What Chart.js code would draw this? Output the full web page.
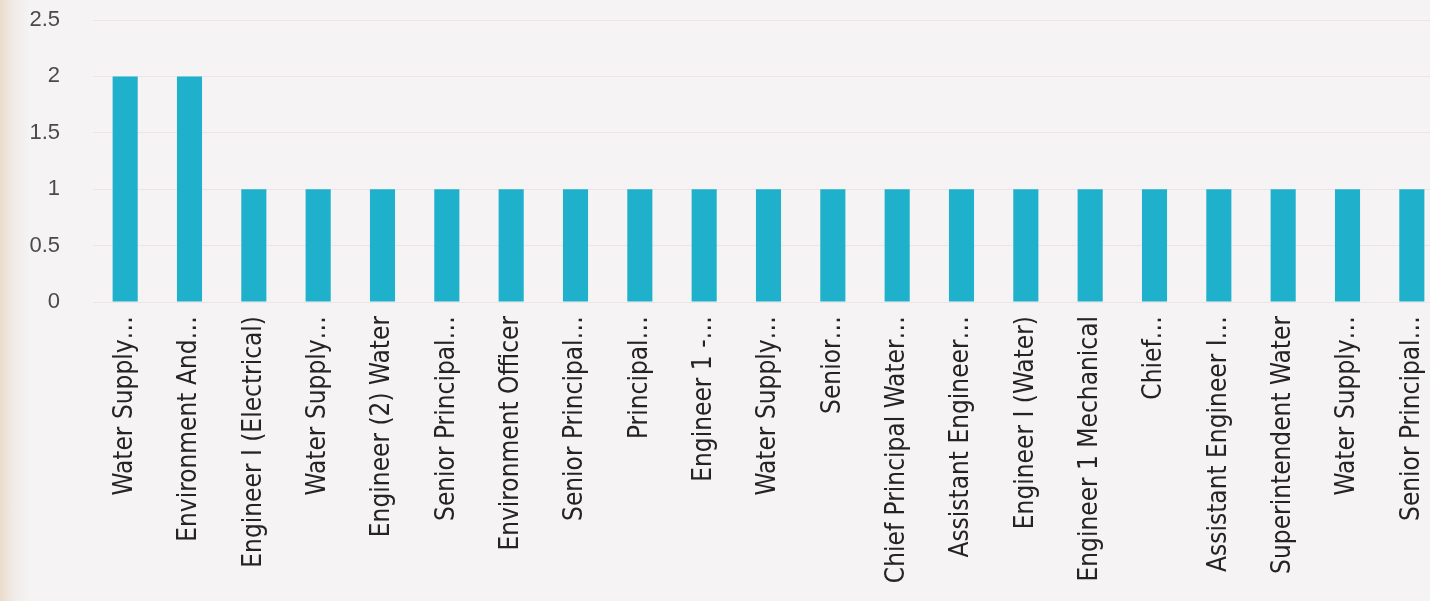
<!DOCTYPE html>
<html>
<head>
<meta charset="utf-8">
<script src="https://cdn.jsdelivr.net/npm/chart.js@4/dist/chart.umd.min.js"></script>
<style>
    html, body { margin: 0; padding: 0; overflow: hidden; }
    body {
        width: 1430px; height: 601px;
        background: linear-gradient(to right, #e9dccb 0px, #f1ebe8 14px, #f5f3f4 30px, #f5f3f4 100%);
    }
    .chart-wrap { position: relative; width: 1444px; height: 601px; }
</style>
</head>
<body>
<div class="chart-wrap">
    <canvas id="roles-chart"></canvas>
</div>
<script>(function() { "use strict";

    var role_labels = [
        'Water Supply…', 'Environment And…', 'Engineer I (Electrical)', 'Water Supply…',
        'Engineer (2) Water', 'Senior Principal…', 'Environment Officer', 'Senior Principal…',
        'Principal…', 'Engineer 1 -…', 'Water Supply…', 'Senior…',
        'Chief Principal Water…', 'Assistant Engineer…', 'Engineer I (Water)', 'Engineer 1 Mechanical',
        'Chief…', 'Assistant Engineer I…', 'Superintendent Water', 'Water Supply…',
        'Senior Principal…'
    ];

    var role_counts = [2, 2, 1, 1, 1, 1, 1, 1, 1, 1, 1, 1, 1, 1, 1, 1, 1, 1, 1, 1, 1];

    var y_ticks = [0, 0.5, 1, 1.5, 2, 2.5];

    var ctx = document.getElementById('roles-chart').getContext('2d');

    // no extra room around the axes, the layout is fixed by the afterFit sizes
    function noAxisPadding(axis) {
        axis.paddingTop = 0;
        axis.paddingBottom = 0;
        axis.paddingLeft = 0;
        axis.paddingRight = 0;
    }

    new Chart(ctx, {
        type: 'bar',
        data: {
            labels: role_labels,
            datasets: [{
                data: role_counts,
                backgroundColor: '#1fb1cb',
                borderWidth: 0,
                categoryPercentage: 1,
                barPercentage: 0.39
            }]
        },
        options: {
            responsive: true,
            maintainAspectRatio: false,
            animation: false,
            layout: { padding: { top: 20, right: 0, left: 0, bottom: 0 } },
            plugins: {
                legend: { display: false },
                tooltip: { enabled: false }
            },
            scales: {
                x: {
                    grid: { display: false, drawTicks: false },
                    border: { display: false },
                    ticks: {
                        autoSkip: false,
                        minRotation: 90,
                        maxRotation: 90,
                        padding: 14,
                        color: '#242424',
                        font: { family: '"Liberation Sans Narrow", "DejaVu Sans Condensed", sans-serif', size: 26 }
                    },
                    afterFit: function(axis) {
                        noAxisPadding(axis);
                        axis.height = 299;
                    }
                },
                y: {
                    min: 0,
                    max: 2.5,
                    afterBuildTicks: function(axis) {
                        axis.ticks = y_ticks.map(function(v) { return { value: v }; });
                    },
                    grid: { color: '#ebe4e8', lineWidth: 1, drawTicks: false },
                    border: { display: false },
                    ticks: {
                        padding: 33,
                        color: '#4a4a4a',
                        font: { family: '"Liberation Sans", sans-serif', size: 22 },
                        callback: function(value) { return String(value); }
                    },
                    afterFit: function(axis) {
                        noAxisPadding(axis);
                        axis.width = 93;
                    }
                }
            }
        }
    });

})();</script>
</body>
</html>
